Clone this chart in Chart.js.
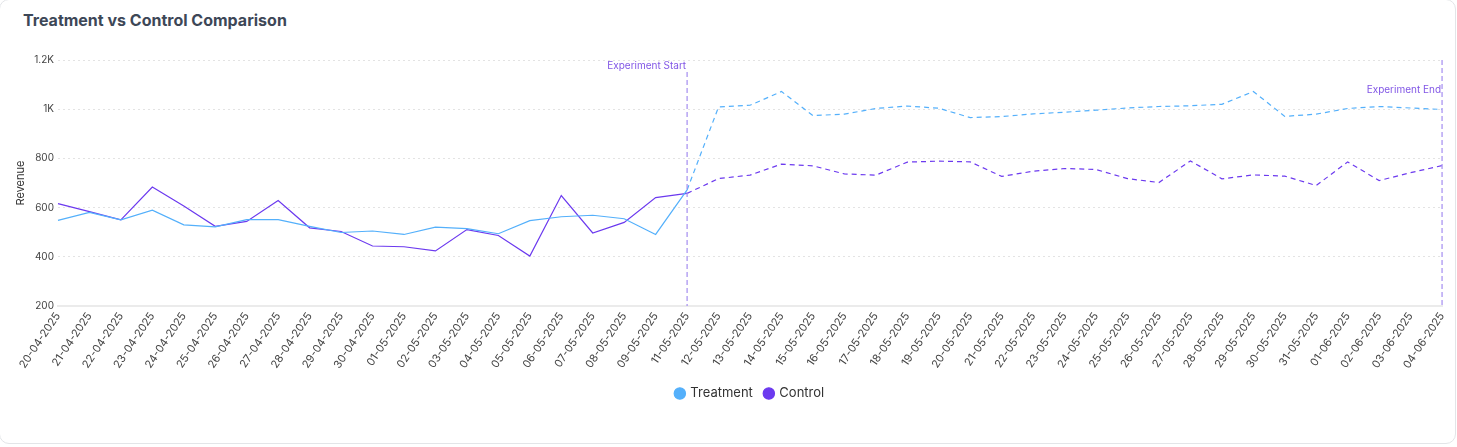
<!DOCTYPE html>
<html>
<head>
<meta charset="utf-8">
<script src="https://cdn.jsdelivr.net/npm/chart.js@4.4.1/dist/chart.umd.min.js"></script>
<style>
  body { margin: 0; background: #ffffff; font-family: Inter, "Noto Sans", sans-serif; }
  .card {
    position: absolute; left: -1px; top: -1px; width: 1457px; height: 445px;
    border: 1px solid #e3e5e8; border-radius: 10px; background: #fff; box-sizing: border-box;
  }
  h3 { position: absolute; left: 23px; top: 10px; margin: 0; font-size: 16px; font-weight: 700; color: #3d4757; }
  .wrap { position: absolute; left: 14px; top: 50px; width: 1443px; height: 360px; }
</style>
</head>
<body>
<div class="card">
  <h3>Treatment vs Control Comparison</h3>
  <div class="wrap"><canvas id="chart1"></canvas></div>
</div>
<script>
const labels = [
  '20-04-2025', '21-04-2025', '22-04-2025', '23-04-2025', '24-04-2025', '25-04-2025', '26-04-2025',
  '27-04-2025', '28-04-2025', '29-04-2025', '30-04-2025', '01-05-2025', '02-05-2025', '03-05-2025',
  '04-05-2025', '05-05-2025', '06-05-2025', '07-05-2025', '08-05-2025', '09-05-2025', '11-05-2025',
  '12-05-2025', '13-05-2025', '14-05-2025', '15-05-2025', '16-05-2025', '17-05-2025', '18-05-2025',
  '19-05-2025', '20-05-2025', '21-05-2025', '22-05-2025', '23-05-2025', '24-05-2025', '25-05-2025',
  '26-05-2025', '27-05-2025', '28-05-2025', '29-05-2025', '30-05-2025', '31-05-2025', '01-06-2025',
  '02-06-2025', '03-06-2025', '04-06-2025'
];
const treatment = [
  548, 581, 550, 590, 530, 522, 551, 551, 524, 499, 505, 491, 521, 515, 494, 547, 563, 569, 555, 491,
  672, 1009, 1016, 1072, 974, 980, 1003, 1013, 1004, 966, 970, 981, 988, 996, 1005, 1011, 1014, 1020,
  1072, 971, 980, 1003, 1011, 1005, 999
];
const control = [
  616, 584, 550, 684, 607, 524, 544, 629, 518, 503, 444, 441, 424, 511, 487, 403, 649, 497, 540, 641,
  658, 718, 732, 777, 770, 737, 732, 785, 789, 786, 727, 748, 759, 755, 718, 702, 790, 717, 733, 728,
  690, 786, 710, 742, 771
];
const yTicks = [200, 400, 600, 800, 1000, 1200];
const experimentStart = '11-05-2025';
const experimentEnd = '04-06-2025';
const startIndex = labels.indexOf(experimentStart);

const dashAfterStart = ctx => ctx.p0DataIndex >= startIndex ? [5, 4] : undefined;

const markers = {
  id: 'markers',
  afterDatasetsDraw(chart) {
    const { ctx, chartArea, scales } = chart;
    const items = [
      { label: 'Experiment Start', at: experimentStart, top: chartArea.top + 12, textY: chartArea.top + 6 },
      { label: 'Experiment End', at: experimentEnd, top: chartArea.top, textY: chartArea.top + 30 }
    ];
    ctx.save();
    items.forEach(m => {
      const x = scales.x.getPixelForValue(labels.indexOf(m.at));
      ctx.strokeStyle = '#a48df0';
      ctx.lineWidth = 1.2;
      ctx.setLineDash([5, 3]);
      ctx.beginPath();
      ctx.moveTo(x, m.top);
      ctx.lineTo(x, chartArea.bottom);
      ctx.stroke();
      ctx.setLineDash([]);
      ctx.fillStyle = '#8257e6';
      ctx.font = '10px Inter, sans-serif';
      ctx.textAlign = 'right';
      ctx.textBaseline = 'middle';
      ctx.fillText(m.label, x - 1, m.textY);
    });
    ctx.restore();
  }
};

const chart1 = new Chart(document.getElementById('chart1').getContext('2d'), {
  type: 'line',
  data: {
    labels: labels,
    datasets: [
      {
        label: 'Treatment',
        data: treatment,
        borderColor: '#54b0fb',
        backgroundColor: '#54b0fb',
        borderWidth: 1.2,
        pointRadius: 0,
        pointHoverRadius: 0,
        tension: 0,
        segment: { borderDash: dashAfterStart }
      },
      {
        label: 'Control',
        data: control,
        borderColor: '#6c3aef',
        backgroundColor: '#6c3aef',
        borderWidth: 1.2,
        pointRadius: 0,
        pointHoverRadius: 0,
        tension: 0,
        segment: { borderDash: dashAfterStart }
      }
    ]
  },
  options: {
    responsive: true,
    maintainAspectRatio: false,
    animation: false,
    layout: { padding: { right: 0, top: 0 } },
    plugins: {
      legend: {
        position: 'bottom',
        fullSize: false,
        labels: {
          usePointStyle: true,
          pointStyle: 'circle',
          boxWidth: 8,
          boxHeight: 8,
          padding: 12,
          color: '#333',
          font: { family: 'Inter', size: 13 }
        }
      },
      tooltip: { enabled: false }
    },
    scales: {
      x: {
        grid: { display: false, drawTicks: false },
        border: { color: '#ebebeb', width: 2 },
        ticks: {
          autoSkip: false,
          minRotation: 56,
          maxRotation: 56,
          padding: 4,
          color: '#444',
          font: { family: 'Inter', size: 11 }
        }
      },
      y: {
        min: 200,
        max: 1200,
        afterBuildTicks: axis => { axis.ticks = yTicks.map(v => ({ value: v })); },
        title: { display: true, text: 'Revenue', color: '#333', font: { family: 'Inter', size: 11 }, padding: { top: 0, bottom: 3 } },
        border: { display: false, dash: [2, 3] },
        grid: { color: '#e3e3e3', drawTicks: false },
        ticks: {
          padding: 4,
          color: '#444',
          font: { family: 'Inter', size: 10 },
          callback: v => v >= 1000 ? (v / 1000) + 'K' : v
        }
      }
    }
  },
  plugins: [markers]
});
</script>
</body>
</html>
